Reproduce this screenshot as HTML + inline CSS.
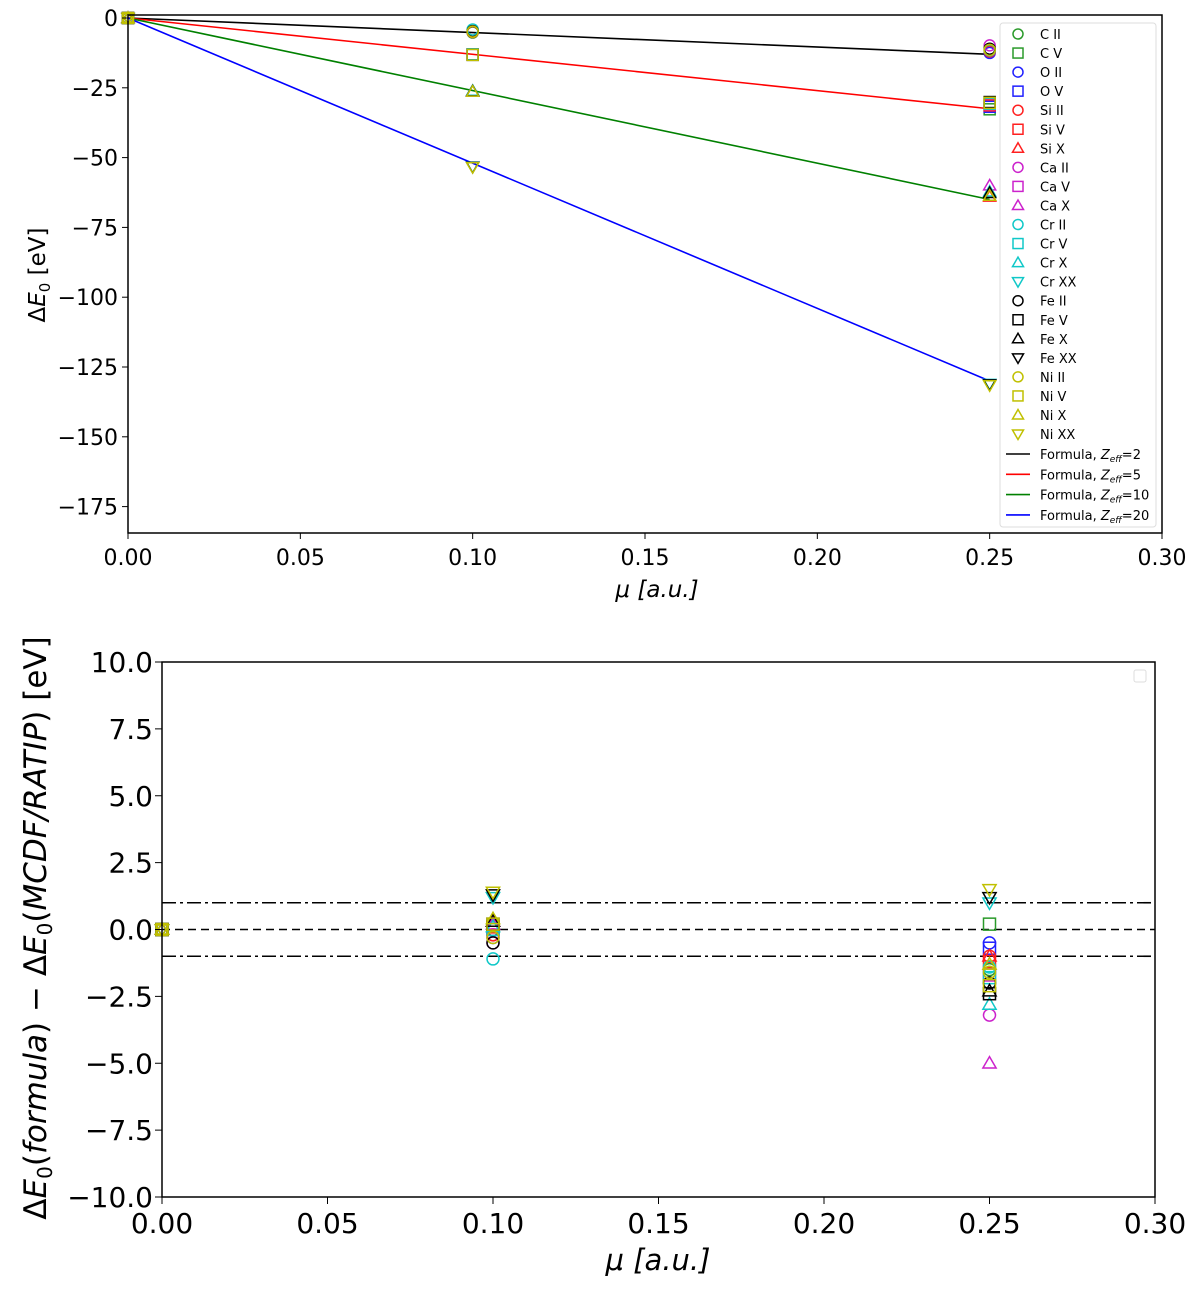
<!DOCTYPE html>
<html><head><meta charset="utf-8"><style>
body{margin:0;background:#fff;width:1200px;height:1287px;overflow:hidden}
svg{font-family:"DejaVu Sans","Liberation Sans",sans-serif}
</style></head><body>
<svg id="c" width="1200" height="1287" viewBox="0 0 1200 1287" xmlns="http://www.w3.org/2000/svg"></svg>
<script>
const ions=["C II","C V","O II","O V","Si II","Si V","Si X","Ca II","Ca V","Ca X","Cr II","Cr V","Cr X","Cr XX","Fe II","Fe V","Fe X","Fe XX","Ni II","Ni V","Ni X","Ni XX"];
const zeffOfIon=[2,5,2,5,2,5,10,2,5,10,2,5,10,20,2,5,10,20,2,5,10,20];
const muValues=[0,0.1,0.25];
const res010=[0.0,0.1,-0.3,0.0,-0.2,0.1,0.3,-0.5,0.0,0.2,-1.1,0.0,0.1,1.2,-0.5,0.2,0.3,1.3,-0.3,0.2,0.4,1.4];
const res025=[-1.5,0.2,-0.5,-0.7,-1.0,-1.2,-1.0,-3.2,-1.7,-5.0,-1.4,-1.8,-2.8,1.0,-2.0,-2.4,-2.3,1.2,-1.6,-2.1,-1.3,1.5];
const formulaZeff=[2,5,10,20];
const formulaSlope=-26; // eV per (Zeff * a.u.)
const topYTicks=[0,-25,-50,-75,-100,-125,-150,-175];
const botYTicks=[10,7.5,5,2.5,0,-2.5,-5,-7.5,-10];
const xTicks=[0,0.05,0.10,0.15,0.20,0.25,0.30];
const elemColor={C:"#2a9a2a",O:"#2020ff",Si:"#ff2020",Ca:"#cc22cc",Cr:"#10c8c8",Fe:"#000",Ni:"#c0c000"};
const lineColor=["#000","#ff0000","#008000","#0000ff"];
const NS="http://www.w3.org/2000/svg";
const svg=document.getElementById('c');
function el(t,a,p){const e=document.createElementNS(NS,t);for(const k in a)e.setAttribute(k,a[k]);(p||svg).appendChild(e);return e;}
function shape(ion){const s=ion.split(' ')[1];return s==="II"?"o":s==="V"?"s":s==="X"?"^":"v";}
function marker(g,kind,x,y,col,r){
 let e;
 if(kind==="o")e=el('circle',{cx:x,cy:y,r:r,fill:"none",stroke:col,"stroke-width":1.5},g);
 else if(kind==="s")e=el('rect',{x:x-r,y:y-r,width:2*r,height:2*r,fill:"none",stroke:col,"stroke-width":1.5},g);
 else if(kind==="^")e=el('polygon',{points:`${x},${y-r*1.1} ${x-r*1.1},${y+r*0.8} ${x+r*1.1},${y+r*0.8}`,fill:"none",stroke:col,"stroke-width":1.5},g);
 else e=el('polygon',{points:`${x},${y+r*1.1} ${x-r*1.1},${y-r*0.8} ${x+r*1.1},${y-r*0.8}`,fill:"none",stroke:col,"stroke-width":1.5},g);
 return e;
}
function formula(z,mu){return formulaSlope*z*mu;}

// ---------- TOP ----------
const T={x0:128,x1:1162,y0:15,y1:533};
const tx=v=>T.x0+v/0.30*(T.x1-T.x0);
const ty=v=>18+(-v)*2.792;
const gt=el('g',{});
formulaZeff.forEach((z,i)=>{
 const l=el('line',{x1:tx(0),y1:ty(formula(z,0)),x2:tx(0.25),y2:ty(formula(z,0.25)),stroke:lineColor[i],"stroke-width":1.6},gt);
 
});
ions.forEach((ion,i)=>{
 const col=elemColor[ion.split(' ')[0]],z=zeffOfIon[i];
 const vals=[0,formula(z,0.1)-res010[i],formula(z,0.25)-res025[i]];
 muValues.forEach((m,j)=>{const e=marker(gt,shape(ion),tx(m),ty(vals[j]),col,5.5);
  });
});
const tb=el('rect',{x:T.x0,y:T.y0,width:T.x1-T.x0,height:T.y1-T.y0,fill:"none",stroke:"#000","stroke-width":1.5},gt);

topYTicks.forEach(v=>{const y=ty(v);el('line',{x1:T.x0-6,y1:y,x2:T.x0,y2:y,stroke:"#000"},gt);
 const t=el('text',{x:T.x0-10,y:y+8,"text-anchor":"end","font-size":22},gt);t.textContent=v<0?"\u2212"+(-v):v;
 });
xTicks.forEach(v=>{const x=tx(v);el('line',{x1:x,y1:T.y1,x2:x,y2:T.y1+6,stroke:"#000"},gt);
 const t=el('text',{x:x,y:T.y1+32,"text-anchor":"middle","font-size":22},gt);t.textContent=v.toFixed(2);
 });
let t=el('text',{x:657,y:597,"text-anchor":"middle","font-size":23,"font-style":"italic"},gt);t.textContent="\u03bc [a.u.]";

t=el('text',{transform:"translate(45,275) rotate(-90)","text-anchor":"middle","font-size":23},gt);
t.innerHTML='\u0394<tspan font-style="italic">E</tspan><tspan font-size="15" dy="5">0</tspan><tspan dy="-5"> [eV]</tspan>';

// legend
const lg=el('g',{},gt);
el('rect',{x:1000,y:23,width:156,height:504,rx:3,fill:"#fff",stroke:"#ddd"},lg);
ions.forEach((ion,i)=>{const y=34+i*19.05;marker(lg,shape(ion),1018,y,elemColor[ion.split(' ')[0]],5);
 const tt=el('text',{x:1040,y:y+5,"font-size":13},lg);tt.textContent=ion;
 });
formulaZeff.forEach((z,i)=>{const y=454+i*20.3;el('line',{x1:1006,y1:y,x2:1030,y2:y,stroke:lineColor[i],"stroke-width":1.6},lg);
 const tt=el('text',{x:1040,y:y+5,"font-size":13},lg);
 tt.innerHTML='Formula, <tspan font-style="italic">Z</tspan><tspan font-size="9" dy="3" font-style="italic">eff</tspan><tspan dy="-3">='+z+'</tspan>';
 });

// ---------- BOTTOM ----------
const B={x0:162,x1:1155,y0:662,y1:1197};
const bx=v=>B.x0+v/0.30*(B.x1-B.x0);
const by=v=>B.y0+(10-v)/20*(B.y1-B.y0);
const gb=el('g',{});
[[1,"14 4 3 4"],[0,"8 5"],[-1,"14 4 3 4"]].forEach(([v,d])=>{const l=el('line',{x1:B.x0,y1:by(v),x2:B.x1,y2:by(v),stroke:"#000","stroke-width":1.6,"stroke-dasharray":d},gb);
 });
ions.forEach((ion,i)=>{const col=elemColor[ion.split(' ')[0]];const vals=[0,res010[i],res025[i]];
 muValues.forEach((m,j)=>{const e=marker(gb,shape(ion),bx(m),by(vals[j]),col,6);
  });});
const bb=el('rect',{x:B.x0,y:B.y0,width:B.x1-B.x0,height:B.y1-B.y0,fill:"none",stroke:"#000","stroke-width":1.5},gb);

el('rect',{x:1134,y:670,width:12,height:12,rx:2,fill:"#fff",stroke:"#ddd"},gb);
botYTicks.forEach(v=>{const y=by(v);el('line',{x1:B.x0-7,y1:y,x2:B.x0,y2:y,stroke:"#000"},gb);
 const tt=el('text',{x:B.x0-9,y:y+10,"text-anchor":"end","font-size":28},gb);tt.textContent=(v<0?"\u2212":"")+Math.abs(v).toFixed(1);
 });
xTicks.forEach(v=>{const x=bx(v);el('line',{x1:x,y1:B.y1,x2:x,y2:B.y1+7,stroke:"#000"},gb);
 const tt=el('text',{x:x,y:B.y1+36,"text-anchor":"middle","font-size":28},gb);tt.textContent=v.toFixed(2);
 });
t=el('text',{x:658,y:1270,"text-anchor":"middle","font-size":29,"font-style":"italic"},gb);t.textContent="\u03bc [a.u.]";

t=el('text',{transform:"translate(46,928) rotate(-90)","text-anchor":"middle","font-size":31},gb);
t.innerHTML='\u0394<tspan font-style="italic">E</tspan><tspan font-size="20" dy="6">0</tspan><tspan dy="-6">(</tspan><tspan font-style="italic">formula</tspan>) \u2212 \u0394<tspan font-style="italic">E</tspan><tspan font-size="20" dy="6">0</tspan><tspan dy="-6">(</tspan><tspan font-style="italic">MCDF/RATIP</tspan>) [eV]';

</script>
</body></html>
